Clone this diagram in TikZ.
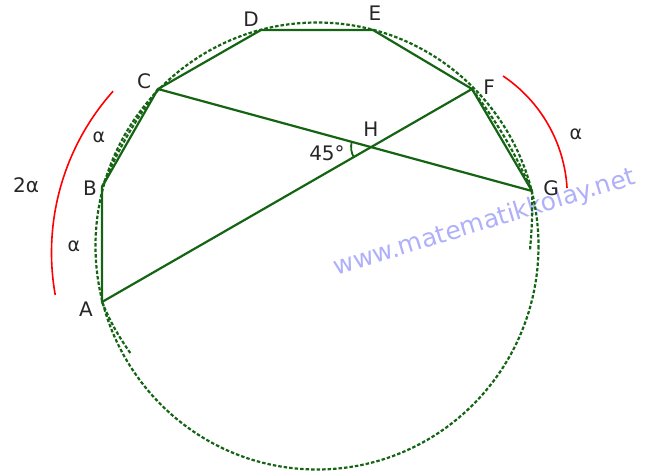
\documentclass[tikz,border=0pt]{standalone}
\usepackage{fontspec}
\setmainfont{DejaVu Sans}
\definecolor{geogreen}{RGB}{20,100,20}
\definecolor{wmblue}{RGB}{175,175,250}
\begin{document}
\begin{tikzpicture}[x=1pt, y=-1pt,
  chord/.style={geogreen, line width=2.2pt},
  dashcirc/.style={geogreen, line width=2.2pt, dash pattern=on 3.5pt off 2pt},
  arcmark/.style={red, line width=1.6pt},
  lbl/.style={font=\fontsize{20}{22}\selectfont, text=black!85},
  alab/.style={font=\fontsize{19}{21}\selectfont, text=black!85}]
  \useasboundingbox (0,0) rectangle (654,476);
  % watermark
  \node[text=wmblue, rotate=17, font=\fontsize{25}{28}\selectfont] (wm) at (485,223) {www.matematikkolay.net};
  % points on the circle
  \coordinate (A) at (102,302);
  \coordinate (B) at (102,187);
  \coordinate (C) at (158,89);
  \coordinate (D) at (261,30);
  \coordinate (E) at (373,30);
  \coordinate (F) at (472,89);
  \coordinate (G) at (532,191);
  \coordinate (H) at (intersection of A--F and C--G);
  \coordinate (Aend) at (131,354);
  \coordinate (Gend) at (530,250);
  % circle and stray dashed arcs
  \draw[dashcirc] (317,246) ellipse [x radius=221.5, y radius=223.5];
  \draw[dashcirc] (A) to[bend right=6] (Aend);
  \draw[dashcirc] (B) to[bend left=6] (C);
  \draw[dashcirc] (F) to[bend left=6] (G);
  \draw[dashcirc] (G) to[bend left=3] (Gend);
  % polygon and chords
  \draw[chord] (A) -- (B) -- (C) -- (D) -- (E) -- (F) -- (G);
  \draw[chord] (C) -- (G);
  \draw[chord] (A) -- (F);
  \draw[geogreen, line width=1.8pt] (H) ++(150:20) arc[start angle=150, end angle=195, radius=20];
  % red arcs
  \draw[arcmark] (293.5,252.5) ++(169.9:242) arc[start angle=169.9, end angle=221.8, radius=242];
  \draw[arcmark] (422,196.6) ++(-56.1:145.3) arc[start angle=-56.1, end angle=-3.4, radius=145.3];
  % labels
  \node[lbl] (la) at (86,309) {A};
  \node[lbl] (lb) at (90,188) {B};
  \node[lbl] (lc) at (144,81) {C};
  \node[lbl] (ld) at (251,19) {D};
  \node[lbl] (le) at (375,13) {E};
  \node[lbl] (lf) at (489,87) {F};
  \node[lbl] (lg) at (551,188) {G};
  \node[lbl] (lh) at (371,129) {H};
  \node[lbl] (ang) at (327,153) {45°};
  \node[alab] (al1) at (99,137) {α};
  \node[alab] (al2) at (74,246) {α};
  \node[alab] (al3) at (576,134) {α};
  \node[lbl] (al4) at (26,185) {2α};
\end{tikzpicture}
\end{document}
